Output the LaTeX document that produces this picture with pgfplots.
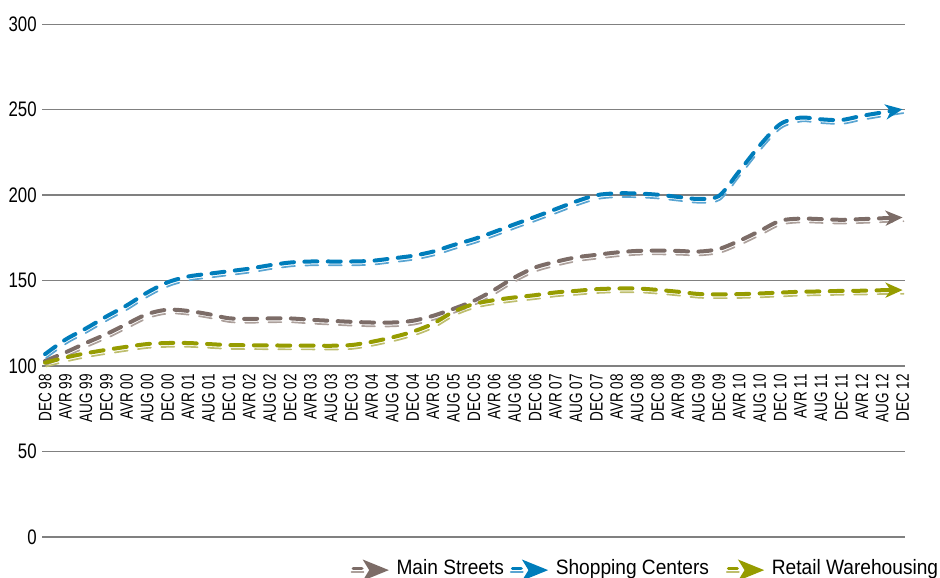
\documentclass[border=0pt]{standalone}
\usepackage{pgfplots}
\usepackage{pgfplotstable}
\pgfplotsset{compat=1.18}
\usetikzlibrary{arrows.meta}
\usepackage{fontspec}
\setmainfont{Liberation Sans}[FakeStretch=0.8]
\newfontfamily\xfont{Liberation Sans}[FakeStretch=0.75]
\newfontfamily\legfont{Liberation Sans}[FakeStretch=0.92]
\definecolor{msd}{RGB}{124,108,103}
\definecolor{msl}{RGB}{172,160,155}
\definecolor{scd}{RGB}{0,125,187}
\definecolor{scl}{RGB}{90,165,210}
\definecolor{rwd}{RGB}{150,156,0}
\definecolor{rwl}{RGB}{190,190,110}
\definecolor{gridc}{RGB}{128,128,128}

\pgfplotstableread{
i sc ms rw
0 107 103 102
1 115.5 108 105
2 122 113.5 107.5
3 129 118.7 109.5
4 135.5 124.6 111.3
5 143 130.4 112.9
6 149 133 113.5
7 152.4 132.3 113.5
8 154 130.4 112.9
9 155.5 128 112.3
10 157 127.6 112.2
11 159 127.9 112.1
12 160.6 127.9 112
13 161.2 127.1 112
14 161.2 126.5 111.9
15 161.2 125.9 112.3
16 161.6 125.5 114.2
17 163 125.5 116.8
18 164.5 126.5 120.1
19 167 129.4 124.8
20 170.8 133.5 131.8
21 174.3 138.2 136.3
22 178.5 144.6 138.6
23 183 151.9 140.2
24 187.3 157.7 141.5
25 191.8 161 143.1
26 196.3 163.6 144
27 200 165.1 145
28 201.1 166.5 145.4
29 201 167.4 145.4
30 200.3 167.6 144.6
31 199 167.4 143.5
32 197.8 167 142.2
33 199.5 168.5 142
34 214 173.3 142.1
35 229 179 142.5
36 241.5 185 143
37 245.4 186.3 143.5
38 244.4 186 143.7
39 244 185.6 144
40 246.4 186 144.1
41 248.4 186.5 144.4
42 250.3 187 144.5
}\datatable

\newcommand{\legsym}[2]{%
  \draw[#2, line width=0.85pt, solid, sharp plot, -] (0pt,-1.7pt) -- (6pt,-1.7pt);
  \draw[#1, line width=1.6pt, solid, sharp plot, line cap=round, -] (0.8pt,0pt) -- (5.2pt,0pt);
  \fill[#1, solid, sharp plot] (16pt,-0.8pt) -- (8pt,2.45pt) -- (10pt,-0.8pt) -- (8pt,-4.05pt) -- cycle;
}

\pgfplotsset{
  shadowline/.style={line width=0.85pt, smooth, dash pattern=on 6.5pt off 5.2pt, line cap=round, xshift=0.5pt, yshift=-1.9pt, forget plot},
  mainline/.style={line width=2pt, smooth, dash pattern=on 6.5pt off 5.2pt, line cap=round, -{Stealth[length=8.5pt,width=7.5pt,inset=2.5pt]}},
}

\begin{document}
\begin{tikzpicture}
\useasboundingbox (0,0) rectangle (470pt,288.5pt);
\begin{axis}[
  at={(21pt,20pt)}, anchor=south west,
  scale only axis, width=431.5pt, height=256.35pt,
  xmin=-0.15, xmax=42.12, ymin=0, ymax=300,
  ytick={0,50,...,300},
  ymajorgrids, grid style={gridc, line width=0.75pt},
  xtick={0,...,42},
  xticklabels={DEC 98, AVR 99, AUG 99, DEC 99, AVR 00, AUG 00, DEC 00, AVR 01, AUG 01, DEC 01, AVR 02, AUG 02, DEC 02, AVR 03, AUG 03, DEC 03, AVR 04, AUG 04, DEC 04, AVR 05, AUG 05, DEC 05, AVR 06, AUG 06, DEC 06, AVR 07, AUG 07, DEC 07, AVR 08, AUG 08, DEC 08, AVR 09, AUG 09, DEC 09, AVR 10, AUG 10, DEC 10, AVR 11, AUG 11, DEC 11, AVR 12, AUG 12, DEC 12},
  xticklabel style={rotate=90, anchor=east, inner sep=0pt, font=\xfont\fontsize{9}{10}\selectfont},
  xticklabel shift=-81.5pt,
  major tick length=0pt,
  axis line style={draw=none}, tick style={draw=none},
  yticklabel style={inner sep=0pt, xshift=-2.5pt, font=\fontsize{10.5}{12}\selectfont},
  /pgf/number format/assume math mode=true,
  clip=false,
  legend columns=3,
  legend cell align=left,
  legend style={at={(1.0435,-0.0615)}, anchor=east, draw=none, fill=none, inner sep=0pt,
    font=\legfont\fontsize{10.4}{12}\selectfont,
    /tikz/column 1/.style={column sep=3.5pt},
    /tikz/column 2/.style={column sep=1pt},
    /tikz/column 3/.style={column sep=3.5pt},
    /tikz/column 4/.style={column sep=6.5pt},
    /tikz/column 5/.style={column sep=3.5pt}},
]
\addplot[msl, shadowline] table[x=i,y=ms]{\datatable};
\addplot[msd, mainline, legend image code/.code={\legsym{msd}{msl}}] table[x=i,y=ms]{\datatable};
\addlegendentry{Main Streets}
\addplot[scl, shadowline] table[x=i,y=sc]{\datatable};
\addplot[scd, mainline, legend image code/.code={\legsym{scd}{scl}}] table[x=i,y=sc]{\datatable};
\addlegendentry{Shopping Centers}
\addplot[rwl, shadowline] table[x=i,y=rw]{\datatable};
\addplot[rwd, mainline, legend image code/.code={\legsym{rwd}{rwl}}] table[x=i,y=rw]{\datatable};
\addlegendentry{Retail Warehousing}
\end{axis}
\end{tikzpicture}
\end{document}
